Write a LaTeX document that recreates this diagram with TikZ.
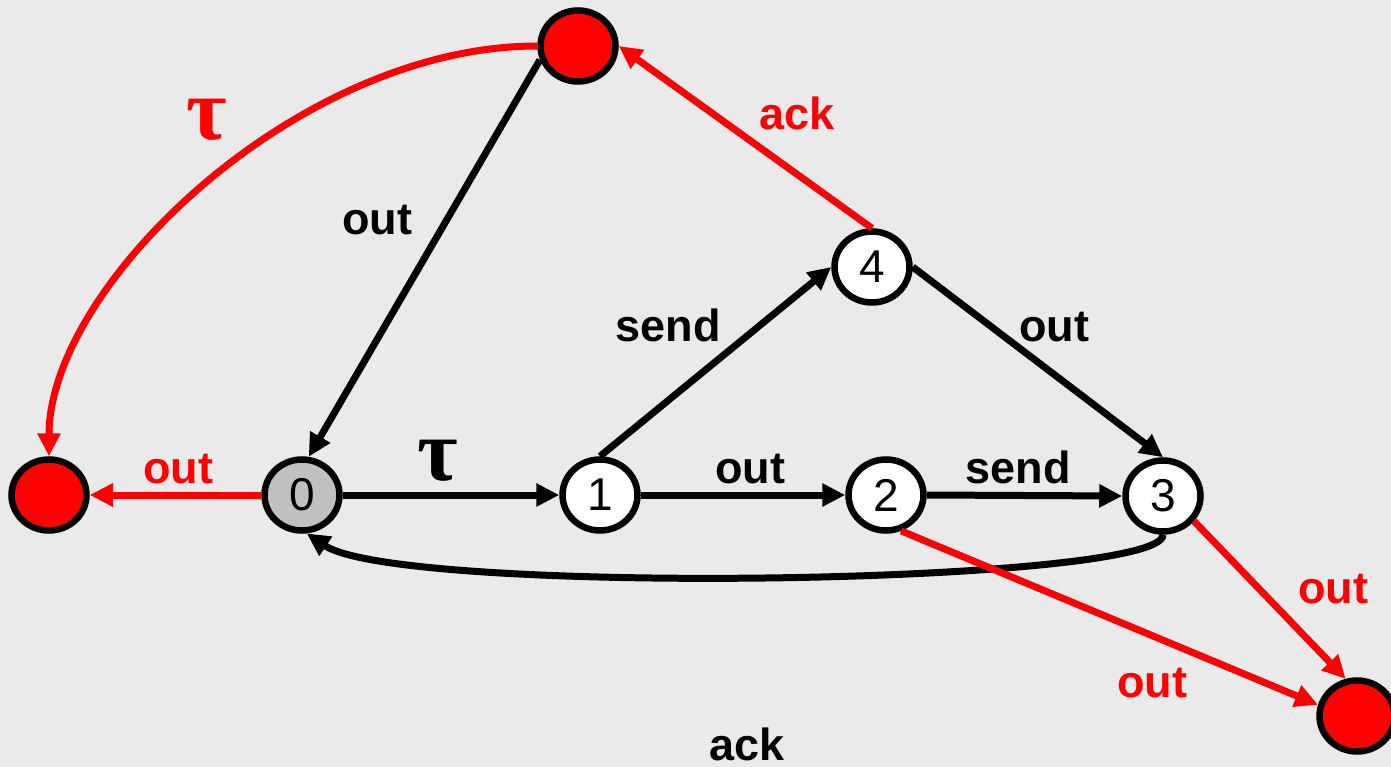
\documentclass[tikz,border=0pt]{standalone}
\usepackage{fontspec}
\setmainfont{Liberation Sans}
\newfontfamily\taufont{Liberation Serif}
\usetikzlibrary{arrows.meta,shapes.geometric}
\definecolor{bg}{HTML}{EAEAEA}
\definecolor{myred}{HTML}{FF0000}
\definecolor{stgray}{HTML}{C0C0C0}
\begin{document}
\begin{tikzpicture}[x=1pt,y=-1pt,
  state/.style={ellipse,draw=black,line width=6.5pt,fill=white,minimum width=75pt,minimum height=71pt,inner sep=0pt,font=\fontsize{46}{46}\selectfont},
  errstate/.style={state,fill=myred},
  blk/.style={line width=7pt,draw=black,-{Triangle[length=23pt,width=22pt]}},
  redarr/.style={blk,draw=myred},
  lbl/.style={anchor=base,font=\bfseries\fontsize{45}{45}\selectfont,inner sep=0pt},
  rlbl/.style={lbl,text=myred},
  taulbl/.style={anchor=base,font=\taufont\bfseries\fontsize{88}{88}\selectfont,inner sep=0pt}
]
\path[fill=bg,use as bounding box] (0,0) rectangle (1391,767);
% states
\node[errstate] (T) at (578,46) {};
\node[errstate] (L) at (49,495) {};
\node[errstate] (BR) at (1357,716) {};
\node[state,fill=stgray] (n0) at (302,495) {0};
\node[state] (n1) at (600,495) {1};
\node[state] (n2) at (886,495) {2};
\node[state] (n3) at (1163,496) {3};
\node[state] (n4) at (872,267) {4};
% black transitions
\draw[blk] (T.200) -- (n0.80);
\draw[blk] (n0.east) -- (n1.west);
\draw[blk] (n1.east) -- (n2.west);
\draw[blk] (n2.east) -- (n3.west);
\draw[blk] (n1.north) -- (n4.west);
\draw[blk] (n4.east) -- (n3.north);
\draw[blk] (n3.south) .. controls (1163,585) and (400,596) .. (n0.277);
% red transitions
\draw[redarr] (T.west) .. controls +(-240,0) and +(0,-170) .. (L.north);
\draw[redarr] (n4.north) -- (T.east);
\draw[redarr] (n0.west) -- (L.east);
\draw[redarr] (n2.293) -- (BR.164);
\draw[redarr] (n3.321) -- (BR.107);
% labels
\node[lbl] (lout0) at (377,235) {out};
\node[rlbl] (lack) at (797,130) {ack};
\node[taulbl,text=myred] (ltau1) at (207,140) {τ};
\node[rlbl] (lout1) at (178,483) {out};
\node[taulbl] (ltau2) at (438,480) {τ};
\node[lbl] (lout2) at (750,483) {out};
\node[lbl] (lsend1) at (1018,483) {send};
\node[lbl] (lsend2) at (668,341) {send};
\node[lbl] (lout3) at (1054,341) {out};
\node[rlbl] (lout4) at (1333,603) {out};
\node[rlbl] (lout5) at (1152,697) {out};
\node[lbl] (lack2) at (747,760) {ack};
\end{tikzpicture}
\end{document}
